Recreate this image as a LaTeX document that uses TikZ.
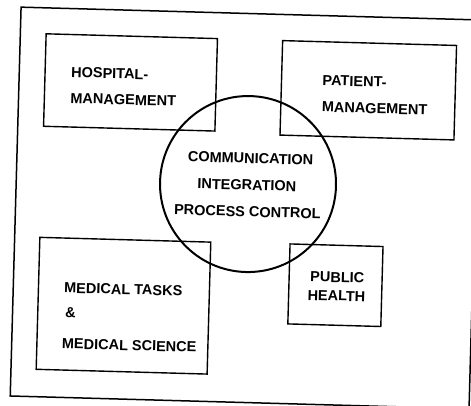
\documentclass[tikz,border=0pt]{standalone}
\usepackage{fontspec}
\setmainfont{Liberation Sans}
\begin{document}
\begin{tikzpicture}[x=1pt,y=-1pt,
  frame/.style={draw, line width=1.5pt, rectangle, inner sep=0pt},
  box/.style={draw, line width=1.4pt, rectangle, inner sep=0pt},
  hub/.style={draw, line width=2pt, circle, inner sep=0pt, minimum size=176pt},
  lbl/.style={font=\fontsize{14.5}{17}\selectfont\bfseries, inner sep=0pt, anchor=base west},
  mid/.style={lbl, anchor=base}]
\useasboundingbox (0,0) rectangle (471,405);
\fill[white] (0,0) rectangle (471,405);
\clip (0,0) rectangle (471,405);
\begin{scope}[rotate around={-1.6:(235.5,202.5)}, transform shape]
  % outer border
  \node[frame, minimum width=459pt, minimum height=389pt] (border) at (245.2,207.7) {};
  % the four fields
  \node[box, minimum width=171.4pt, minimum height=92.5pt] (hosp) at (127.2,85.4) {};
  \node[box, minimum width=174pt, minimum height=94.5pt] (pat) at (365.1,86.6) {};
  \node[box, minimum width=171pt, minimum height=132pt] (med) at (126.4,308.8) {};
  \node[box, minimum width=93pt, minimum height=80pt] (pub) at (337.7,282.4) {};
  % central circle
  \node[hub] (core) at (247.5,183.7) {};
  % labels
  \node[lbl] (h1) at (67.5,81.9) {HOSPITAL-};
  \node[lbl] (h2) at (67.5,107.9) {MANAGEMENT};
  \node[lbl] (p1) at (319,83.1) {PATIENT-};
  \node[lbl] (p2) at (319,109.6) {MANAGEMENT};
  \node[mid] (c1) at (249.4,162.9) {COMMUNICATION};
  \node[mid] (c2) at (246.4,189.7) {INTEGRATION};
  \node[mid] (c3) at (247.7,216.4) {PROCESS CONTROL};
  \node[lbl] (m1) at (66.5,297.5) {MEDICAL TASKS};
  \node[lbl] (m2) at (68.2,322.1) {\&};
  \node[lbl] (m3) at (65.8,353.2) {MEDICAL SCIENCE};
  \node[lbl] (u1) at (312.2,279.6) {PUBLIC};
  \node[lbl] (u2) at (310,298) {HEALTH};
\end{scope}
\end{tikzpicture}
\end{document}
